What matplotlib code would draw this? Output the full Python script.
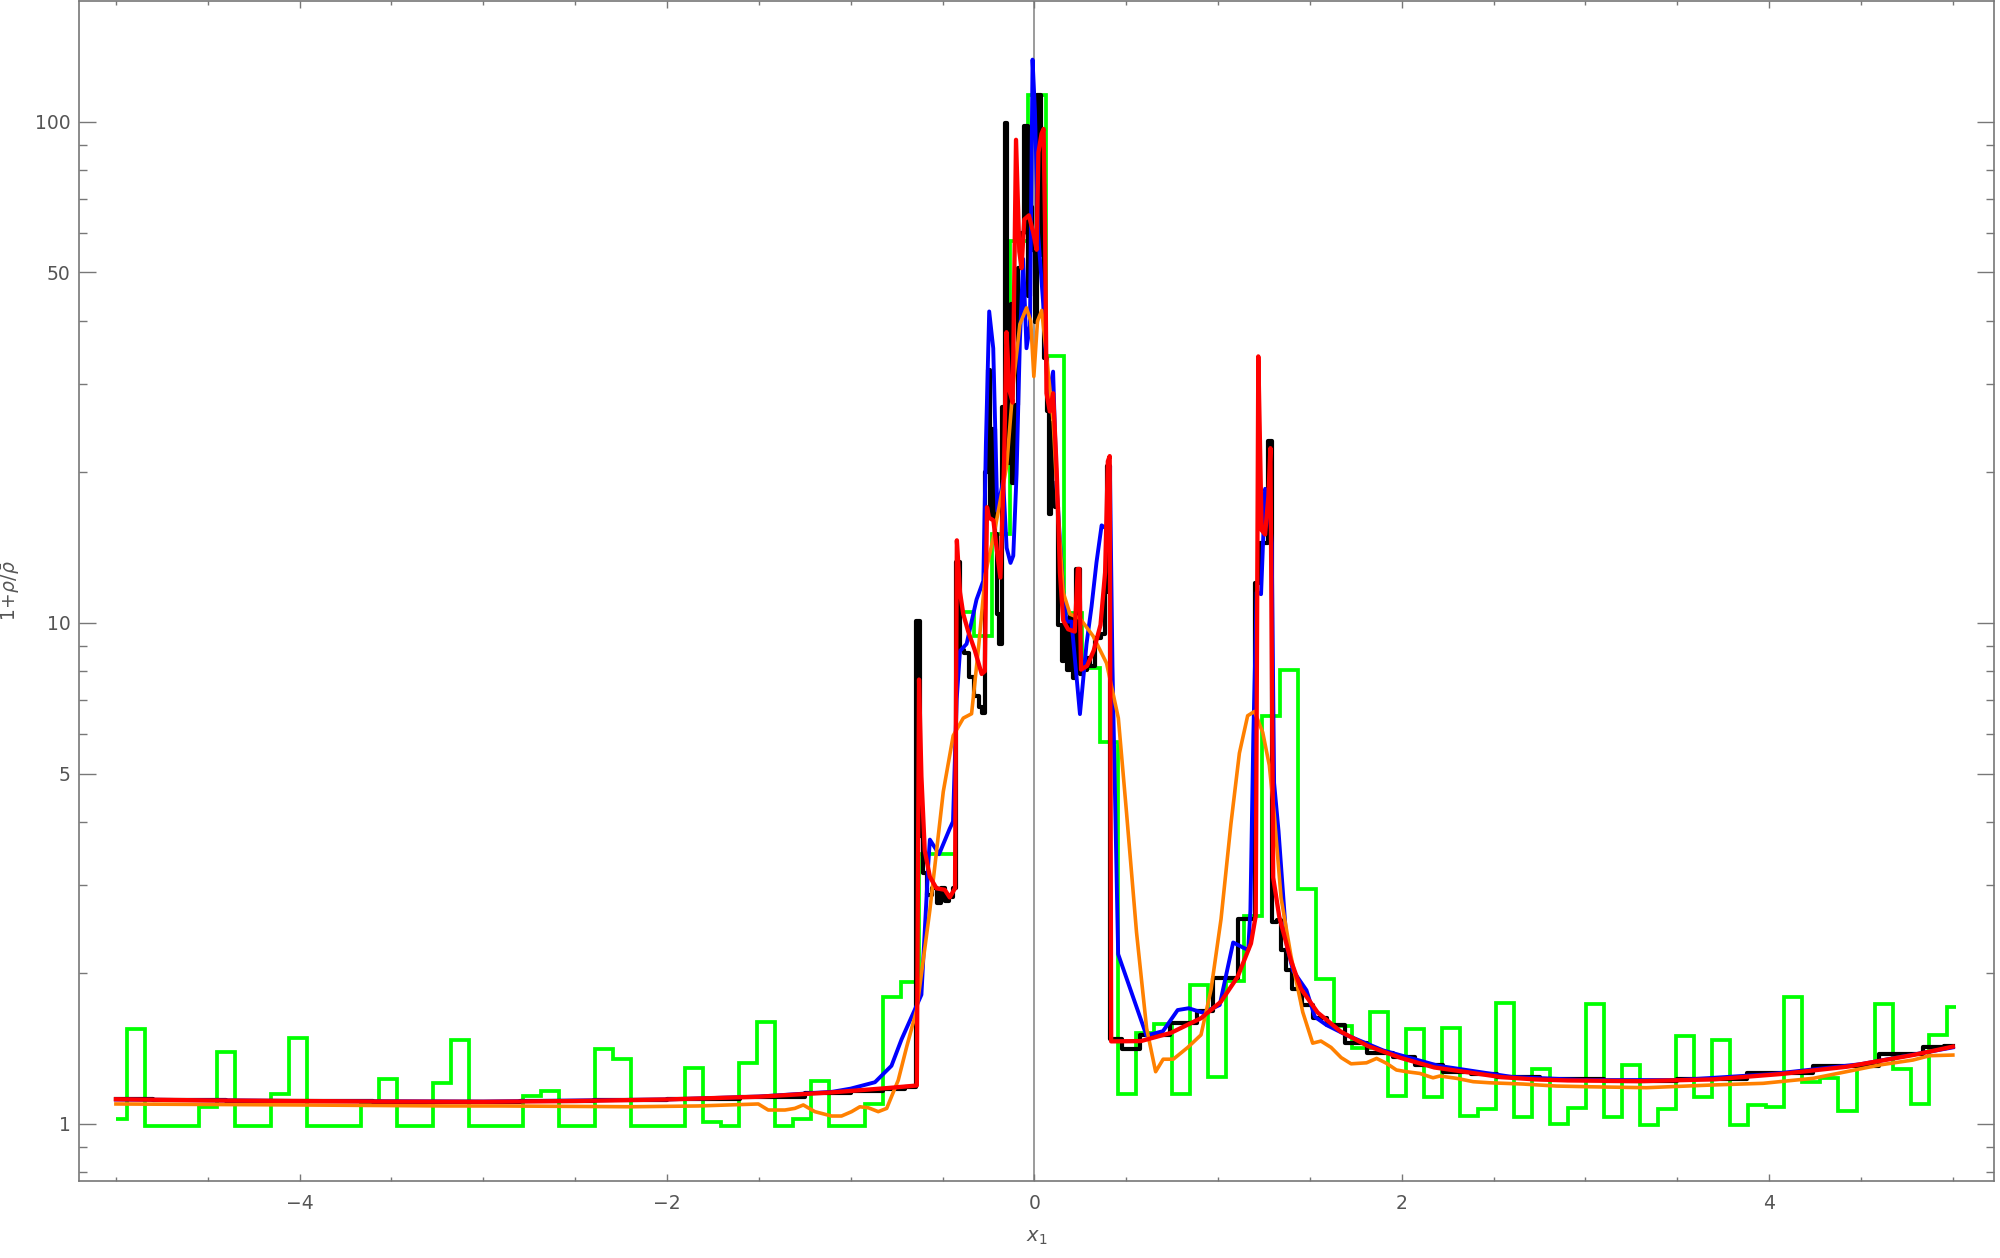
import numpy as np
import matplotlib.pyplot as plt
from matplotlib.ticker import FixedLocator, NullFormatter

# green histogram: one level per bin, bins run from -5 to 5.016
green_start = -5.0
green_end = 5.016
green_inner = np.linspace(-4.942, 4.966, 102)
green_vals = [1.02,
              1.543, 0.99, 0.99, 0.99, 1.081, 1.390, 0.99, 0.99, 1.145, 1.480,
              0.99, 0.99, 0.99, 1.10, 1.228, 0.99, 0.99, 1.207, 1.469, 0.99,
              0.99, 0.99, 1.137, 1.162, 0.99, 0.99, 1.410, 1.346, 0.99, 0.99,
              0.99, 1.290, 1.009, 0.99, 1.320, 1.598, 0.99, 1.020, 1.218, 0.99,
              0.99, 1.093, 1.787, 1.919, 3.458, 3.458, 10.49, 9.41, 15.0, 57.7,
              113.0, 34.0, 10.47, 8.12, 5.77, 1.145, 1.52, 1.578, 1.145, 1.89,
              1.237, 1.93, 2.60, 6.52, 8.05, 2.94, 1.945, 1.569, 1.414, 1.668,
              1.137, 1.545, 1.129, 1.549, 1.037, 1.068, 1.738, 1.033, 1.285, 0.997,
              1.076, 1.734, 1.033, 1.31, 0.994, 1.070, 1.498, 1.132, 1.469, 0.994,
              1.090, 1.078, 1.793, 1.210, 1.235, 1.062, 1.310, 1.730, 1.284, 1.095,
              1.503,
              1.706]

black_x = [-5.0, -4.6, -4.2, -3.8, -3.4, -3.0, -2.6, -2.2, -1.8, -1.4, -1.1, -0.9, -0.75, -0.66,
           -0.63, -0.615, -0.597, -0.575, -0.545, -0.519, -0.497, -0.475, -0.455, -0.435,
           -0.415, -0.395, -0.37, -0.342, -0.315, -0.29, -0.275, -0.262, -0.248, -0.235,
           -0.222, -0.21, -0.2, -0.185, -0.17, -0.151, -0.142, -0.133, -0.124, -0.115,
           -0.097, -0.079, -0.065, -0.043, -0.03, -0.015, -0.006, 0.008, 0.021, 0.03,
           0.039, 0.048, 0.059, 0.074, 0.084, 0.093, 0.102, 0.12, 0.139, 0.157, 0.166,
           0.184, 0.202, 0.22, 0.238, 0.255, 0.275, 0.293, 0.311, 0.347, 0.374, 0.39,
           0.405, 0.42, 0.53, 0.625, 0.85, 0.92, 1.03, 1.19, 1.215, 1.237, 1.26, 1.283,
           1.305, 1.336, 1.354, 1.39, 1.418, 1.5, 1.536, 1.645, 1.736, 1.881, 2.026,
           2.117, 2.334, 2.425, 2.607, 2.9, 3.3, 3.7, 4.06, 4.42, 4.78, 4.9, 5.0]
black_y = [1.12, 1.113, 1.111, 1.109, 1.107, 1.106, 1.109, 1.113, 1.12, 1.13, 1.15, 1.162, 1.174, 1.186,
           10.1, 3.76, 3.16, 2.86, 2.95, 2.76, 2.95, 2.78, 2.84, 2.95,
           13.2, 8.8, 8.7, 7.8, 7.14, 6.8, 6.59, 20.0, 31.9, 16.2,
           24.4, 15.0, 10.4, 9.07, 26.9, 99.4, 20.8, 37.9, 43.2, 19.0,
           27.2, 51.0, 60.0, 98.0, 44.9, 67.5, 55.5, 39.9, 113.0, 113.0,
           54.2, 75.0, 33.8, 26.4, 16.5, 25.0, 19.0, 17.0, 9.9, 8.4, 9.9,
           8.06, 10.3, 7.75, 12.8, 7.9, 8.06, 8.5, 8.2, 9.3, 9.5, 11.5,
           20.5, 1.475, 1.407, 1.504, 1.586, 1.678, 1.955, 2.56, 12.0, 14.4, 14.4, 23.0,
           2.53, 2.55, 2.22, 2.03, 1.86, 1.726, 1.622, 1.574, 1.45, 1.386, 1.36,
           1.31, 1.27, 1.256, 1.241, 1.226, 1.218, 1.228, 1.26, 1.305, 1.375, 1.42, 1.43]

blue_x = [-5.0, -4.0, -3.0, -2.0, -1.5, -1.1, -1.0, -0.868, -0.778, -0.723, -0.642, -0.615,
          -0.578, -0.569, -0.519, -0.461, -0.443, -0.423, -0.405, -0.369, -0.315, -0.278,
          -0.264, -0.246, -0.224, -0.202, -0.17, -0.151, -0.13, -0.115, -0.097, -0.079,
          -0.061, -0.043, -0.024, -0.01, 0.003, 0.02, 0.048, 0.075, 0.102, 0.121, 0.157,
          0.175, 0.202, 0.248, 0.284, 0.311, 0.338, 0.366, 0.393, 0.411, 0.425, 0.456,
          0.61, 0.70, 0.78, 0.84, 0.918, 1.009, 1.036, 1.082, 1.164, 1.176, 1.192, 1.21,
          1.234, 1.256, 1.275, 1.292, 1.305, 1.329, 1.374, 1.408, 1.481, 1.527, 1.59,
          1.699, 1.9, 2.2, 2.6, 3.0, 3.5, 4.0, 4.5, 5.0]
blue_y = [1.118, 1.11, 1.107, 1.118, 1.133, 1.158, 1.175, 1.21, 1.305, 1.474, 1.718, 1.809,
          3.28, 3.69, 3.45, 3.88, 4.01, 7.03, 8.78, 9.07, 11.12, 12.12,
          22.7, 41.8, 35.3, 16.7, 19.2, 14.1, 13.16, 13.6, 19.8, 36.5,
          53.2, 35.3, 39.2, 133.0, 105.0, 60.0, 43.3, 27.9, 31.7, 18.7, 11.5,
          10.05, 10.05, 6.57, 9.08, 10.76, 13.19, 15.64, 15.4, 20.5, 8.2, 2.18,
          1.5, 1.53, 1.686, 1.70, 1.665, 1.726, 1.92, 2.30, 2.22, 2.67, 5.97, 11.5,
          11.4, 18.5, 18.0, 14.4, 4.79, 3.84, 2.27, 2.02, 1.847, 1.634, 1.574,
          1.503, 1.4, 1.305, 1.24, 1.222, 1.222, 1.255, 1.315, 1.42]

orange_x = [-5.0, -4.0, -3.2, -2.9, -2.2, -1.83, -1.503, -1.449, -1.358, -1.304, -1.258,
            -1.195, -1.104, -1.05, -0.995, -0.95, -0.904, -0.85, -0.804, -0.741, -0.695,
            -0.641, -0.569, -0.496, -0.442, -0.387, -0.342, -0.303, -0.267, -0.22, -0.18,
            -0.151, -0.115, -0.079, -0.043, -0.02, -0.003, 0.017, 0.04, 0.07, 0.103, 0.13,
            0.157, 0.194, 0.248, 0.32, 0.393, 0.457, 0.502, 0.556, 0.611, 0.66, 0.701,
            0.756, 0.835, 0.907, 0.962, 1.016, 1.07, 1.116, 1.161, 1.198, 1.243, 1.279,
            1.306, 1.343, 1.397, 1.461, 1.515, 1.56, 1.615, 1.67, 1.724, 1.808, 1.863,
            1.917, 1.971, 2.026, 2.098, 2.17, 2.207, 2.298, 2.389, 2.479, 2.66, 2.842,
            3.024, 3.332, 3.695, 3.967, 4.24, 4.42, 4.602, 4.783, 4.874, 5.0]
orange_y = [1.095, 1.09, 1.085, 1.085, 1.081, 1.085, 1.095, 1.065, 1.065, 1.073, 1.09,
            1.057, 1.036, 1.036, 1.057, 1.081, 1.076, 1.057, 1.073, 1.222, 1.425,
            1.686, 2.67, 4.6, 5.95, 6.45, 6.58, 9.0, 12.5, 15.0, 18.0,
            20.5, 30.0, 39.4, 42.5, 40.0, 31.0, 40.0, 42.0, 33.0, 25.0, 16.2,
            11.5, 10.4, 10.2, 9.4, 8.3, 6.45, 4.16, 2.41, 1.55, 1.27, 1.345,
            1.345, 1.42, 1.504, 1.855, 2.56, 3.97, 5.49, 6.52, 6.65, 6.04, 5.19,
            4.13, 2.82, 2.16, 1.67, 1.448, 1.462, 1.42, 1.355, 1.317, 1.323, 1.35,
            1.32, 1.28, 1.27, 1.26, 1.235, 1.245, 1.232, 1.213, 1.207, 1.2, 1.189,
            1.185, 1.18, 1.195, 1.204, 1.232, 1.27, 1.31, 1.34, 1.367, 1.371]

red_x = [-5.0, -4.5, -4.0, -3.5, -3.0, -2.5, -2.0, -1.5, -1.1, -0.8, -0.64, -0.628,
         -0.615, -0.597, -0.569, -0.533, -0.488, -0.461, -0.432, -0.422, -0.405, -0.387,
         -0.36, -0.324, -0.287, -0.27, -0.258, -0.247, -0.223, -0.205, -0.185, -0.165,
         -0.152, -0.135, -0.118, -0.1, -0.082, -0.07, -0.055, -0.03, -0.006, 0.012,
         0.022, 0.039, 0.05, 0.058, 0.066, 0.084, 0.102, 0.121, 0.139, 0.157, 0.184,
         0.22, 0.236, 0.245, 0.254, 0.287, 0.323, 0.36, 0.385, 0.4, 0.41, 0.418, 0.58,
         0.743, 0.907, 1.015, 1.106, 1.179, 1.205, 1.219, 1.237, 1.256, 1.274, 1.285,
         1.3, 1.333, 1.396, 1.451, 1.542, 1.669, 1.814, 1.995, 2.177, 2.358, 2.54,
         2.722, 2.903, 3.3, 3.695, 4.058, 4.42, 4.783, 5.0]
red_y = [1.119, 1.113, 1.11, 1.107, 1.106, 1.11, 1.118, 1.132, 1.155, 1.178, 1.192, 7.7,
         4.93, 3.51, 3.11, 2.95, 2.93, 2.83, 2.95, 14.6, 11.5, 10.4,
         9.6, 8.8, 7.9, 8.0, 17.0, 16.2, 16.0, 14.0, 12.3, 20.8,
         38.0, 29.0, 27.5, 92.0, 55.0, 51.0, 63.8, 65.0, 60.0, 55.5,
         86.8, 94.6, 96.7, 62.4, 28.7, 26.4, 28.7, 20.3, 12.6, 10.1, 9.7,
         9.6, 12.8, 12.8, 8.06, 8.2, 8.8, 9.9, 12.6, 21.0, 21.5, 1.46, 1.462,
         1.518, 1.624, 1.751, 1.963, 2.29, 2.6, 34.0, 15.3, 15.0, 17.9, 22.3,
         3.1, 2.59, 2.12, 1.86, 1.667, 1.526, 1.43, 1.353, 1.295, 1.267, 1.239,
         1.226, 1.22, 1.216, 1.226, 1.256, 1.299, 1.371, 1.425]

ytick_vals = [1, 5, 10, 50, 100]
ytick_minor = [0.8, 0.9, 2, 3, 4, 6, 7, 8, 9, 20, 30, 40, 60, 70, 80, 90]
xtick_vals = [-4, -2, 0, 2, 4]
xtick_labels = ['\u22124', '\u22122', '0', '2', '4']

fig = plt.figure(figsize=(20, 12.58), dpi=100)
ax = fig.add_axes([0.0395, 0.0612, 0.9575, 0.9383])

edges = np.concatenate([[green_start], green_inner, [green_end]])
ax.stairs(green_vals, edges, baseline=None, color='#00ff00', lw=2.7, zorder=2)
ax.plot(black_x, black_y, color='black', lw=3.0, drawstyle='steps-mid', zorder=3)
ax.plot(blue_x, blue_y, color='#0000ff', lw=2.8, zorder=4)
ax.plot(orange_x, orange_y, color='#ff8000', lw=2.6, zorder=5)
ax.plot(red_x, red_y, color='#ff0000', lw=3.1, zorder=6)
ax.axvline(0, color='#8a8a8a', lw=1.2, zorder=1)

ax.set_yscale('log')
ax.set_xlim(-5.201, 5.224)
ax.set_ylim(0.7685, 174.4)

ax.yaxis.set_major_locator(FixedLocator(ytick_vals))
ax.set_yticklabels([str(v) for v in ytick_vals])
ax.yaxis.set_minor_locator(FixedLocator(ytick_minor))
ax.yaxis.set_minor_formatter(NullFormatter())
ax.set_xticks(xtick_vals)
ax.set_xticklabels(xtick_labels)
ax.xaxis.set_minor_locator(FixedLocator(np.arange(-5, 5.01, 0.5)))

grey = '#777777'
for s in ax.spines.values():
    s.set_color(grey)
    s.set_linewidth(1.2)
ax.tick_params(axis='both', which='both', direction='in', color=grey, width=1.0,
               labelcolor='#555555', labelsize=13.5)
ax.tick_params(axis='y', which='major', length=12.5, pad=6, left=True, right=True)
ax.tick_params(axis='y', which='minor', length=6, left=True, right=True)
ax.tick_params(axis='x', which='major', length=5, pad=9, top=True, bottom=True)
ax.tick_params(axis='x', which='minor', length=3, top=True, bottom=True)

ax.set_xlabel(r'$x_1$', fontsize=14, color='#555555')
ax.xaxis.set_label_coords(0.5, -0.04)
ax.set_ylabel(r'$1\!+\!\rho/\bar{\rho}$', fontsize=13.5, color='#555555')
ax.yaxis.set_label_coords(-0.030, 0.5)

fig.savefig('out.png', dpi=100)
